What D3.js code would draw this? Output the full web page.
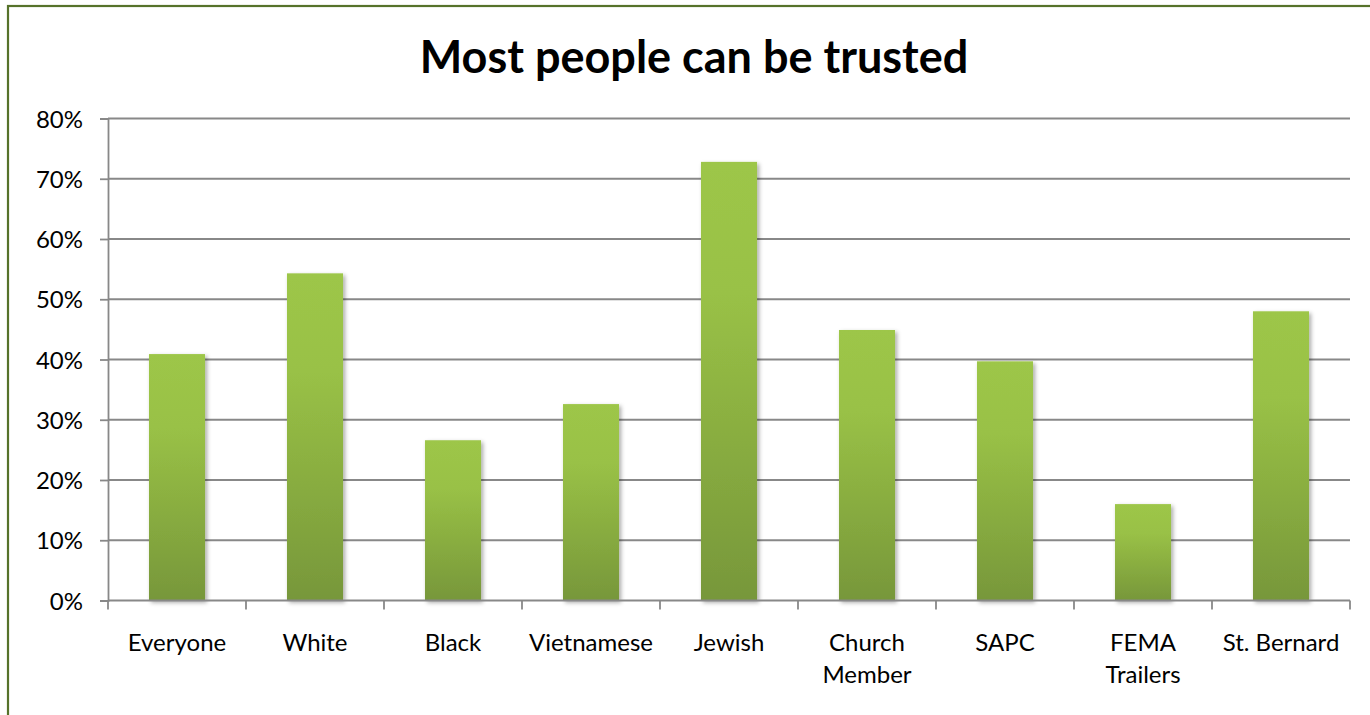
<!DOCTYPE html>
<html>
<head>
<meta charset="utf-8">
<script src="https://cdn.jsdelivr.net/npm/d3@7"></script>
<style>
  html, body { margin: 0; padding: 0; background: #ffffff; }
  svg { display: block; }
  text { font-family: Lato, "Open Sans", sans-serif; fill: #000; }
</style>
</head>
<body>
<svg id="chart" width="1370" height="715"></svg>
<script>
const title = "Most people can be trusted";
const categories = ["Everyone", "White", "Black", "Vietnamese", "Jewish", "Church Member", "SAPC", "FEMA Trailers", "St. Bernard"];
const categoryLines = [["Everyone"], ["White"], ["Black"], ["Vietnamese"], ["Jewish"], ["Church", "Member"], ["SAPC"], ["FEMA", "Trailers"], ["St. Bernard"]];
const values = [0.409, 0.543, 0.266, 0.326, 0.728, 0.449, 0.397, 0.160, 0.480];
const yTicks = [0, 0.1, 0.2, 0.3, 0.4, 0.5, 0.6, 0.7, 0.8];

const svg = d3.select("#chart");

// defs: gradient + shadow
const defs = svg.append("defs");
const grad = defs.append("linearGradient").attr("id", "barGrad")
  .attr("x1", 0).attr("y1", 0).attr("x2", 0).attr("y2", 1);
grad.append("stop").attr("offset", "0%").attr("stop-color", "#9dc648");
grad.append("stop").attr("offset", "30%").attr("stop-color", "#99c146");
grad.append("stop").attr("offset", "100%").attr("stop-color", "#77973a");
const filt = defs.append("filter").attr("id", "shadow")
  .attr("x", "-20%").attr("y", "-5%").attr("width", "150%").attr("height", "115%");
filt.append("feDropShadow").attr("dx", 2).attr("dy", 2).attr("stdDeviation", 2.2)
  .attr("flood-color", "#000").attr("flood-opacity", 0.35);

// outer border (chart frame, clipped at right/bottom)
svg.append("rect").attr("x", 8).attr("y", 6).attr("width", 1420).attr("height", 760)
  .attr("fill", "none").attr("stroke", "#56722a").attr("stroke-width", 2.2);

const x = d3.scaleBand().domain(categories).range([108, 1350])
  .paddingInner(0.594).paddingOuter(0.297);
const y = d3.scaleLinear().domain([0, 0.8]).range([600.5, 118.5]);

// title
svg.append("text").attr("x", 694).attr("y", 73)
  .attr("text-anchor", "middle").attr("font-weight", "bold")
  .style("font-size", "45px").text(title);

// gridlines
svg.append("g").selectAll("line").data(yTicks.slice(1)).join("line")
  .attr("x1", 108).attr("x2", 1350)
  .attr("y1", d => y(d)).attr("y2", d => y(d))
  .attr("stroke", "#888888").attr("stroke-width", 1.8);

// y axis
const yAxis = d3.axisLeft(y).tickValues(yTicks).tickFormat(d3.format(".0%"))
  .tickSize(8).tickPadding(17);
const gy = svg.append("g").attr("transform", "translate(108,0)").call(yAxis);
gy.select(".domain").attr("stroke", "#888888").attr("stroke-width", 1.8);
gy.selectAll(".tick line").attr("stroke", "#888888").attr("stroke-width", 1.8);
gy.selectAll(".tick text").style("font-size", "24px").attr("dy", "0.36em")
  .style("font-family", "Lato, sans-serif").attr("fill", "#000");

// bars
svg.append("g").selectAll("rect").data(values).join("rect")
  .attr("x", (d, i) => x(categories[i]))
  .attr("y", d => y(d))
  .attr("width", x.bandwidth())
  .attr("height", d => y(0) - y(d))
  .attr("fill", "url(#barGrad)")
  .attr("filter", "url(#shadow)");

// x axis line & ticks
const step = x.step();
const bounds = d3.range(categories.length + 1).map(i => 108 + i * step);
svg.append("line").attr("x1", 108).attr("x2", 1350).attr("y1", y(0)).attr("y2", y(0))
  .attr("stroke", "#888888").attr("stroke-width", 1.8);
svg.append("g").selectAll("line").data(bounds).join("line")
  .attr("x1", d => d).attr("x2", d => d)
  .attr("y1", y(0)).attr("y2", y(0) + 9)
  .attr("stroke", "#888888").attr("stroke-width", 1.8);

// x labels
const lab = svg.append("g").selectAll("text").data(categories).join("text")
  .attr("text-anchor", "middle")
  .attr("x", d => x(d) + x.bandwidth() / 2)
  .attr("y", 651)
  .style("font-size", "24px");
lab.each(function(d, i) {
  const t = d3.select(this);
  categoryLines[i].forEach((line, j) => {
    t.append("tspan").attr("x", x(d) + x.bandwidth() / 2).attr("dy", j === 0 ? 0 : 32).text(line);
  });
});
</script>
</body>
</html>
